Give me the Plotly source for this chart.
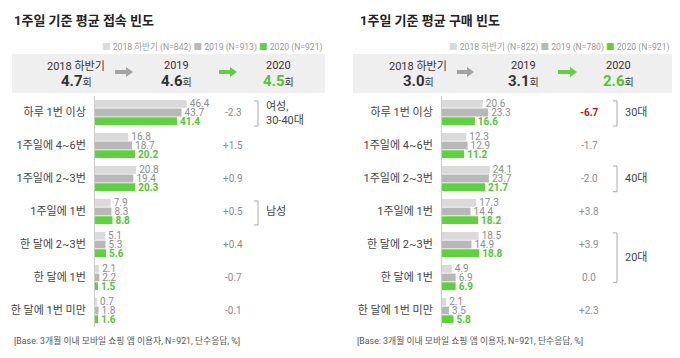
import plotly.graph_objects as go

# page body has an 8px margin, so the figure is drawn 8px in from the window edge
OFF = 8
W, H = 680 - 2 * OFF, 358 - 2 * OFF

categories = ["하루 1번 이상", "1주일에 4~6번", "1주일에 2~3번", "1주일에 1번",
              "한 달에 2~3번", "한 달에 1번", "한 달에 1번 미만"]

# Left panel: access frequency
acc_2018 = [46.4, 16.8, 20.8, 7.9, 5.1, 2.1, 0.7]
acc_2019 = [43.7, 18.7, 19.4, 8.3, 5.3, 2.2, 1.8]
acc_2020 = [41.4, 20.2, 20.3, 8.8, 5.6, 1.5, 1.6]
acc_diff = ["-2.3", "+1.5", "+0.9", "+0.5", "+0.4", "-0.7", "-0.1"]
acc_avg = ["4.7", "4.6", "4.5"]
acc_n = ["842", "913", "921"]

# Right panel: purchase frequency
buy_2018 = [20.6, 12.3, 24.1, 17.3, 18.5, 4.9, 2.1]
buy_2019 = [23.3, 12.9, 23.7, 14.4, 14.9, 6.9, 3.5]
buy_2020 = [16.6, 11.2, 21.7, 18.2, 18.8, 6.9, 5.8]
buy_diff = ["-6.7", "-1.7", "-2.0", "+3.8", "+3.9", "0.0", "+2.3"]
buy_avg = ["3.0", "3.1", "2.6"]
buy_n = ["822", "780", "921"]

period_labels = ["2018 하반기", "2019", "2020"]

C18, C19, C20 = "#dadada", "#b8b8b8", "#5cd33c"
TXT_GRAY = "#8c8c8c"
GREEN_TXT = "#4fc52f"
FONT = "Roboto, 'Noto Sans CJK KR', sans-serif"


def px(x):
    return (x - OFF) / W


def py(y):
    return 1 - (y - OFF) / H


fig = go.Figure()


def add_bars(v18, v19, v20, xa, ya):
    for vals, col, tcol, bold in [(v18, C18, TXT_GRAY, False),
                                  (v19, C19, TXT_GRAY, False),
                                  (v20, C20, GREEN_TXT, True)]:
        txt = [(f"<b>{v:.1f}</b>" if bold else f"{v:.1f}") for v in vals]
        fig.add_trace(go.Bar(
            y=categories, x=vals, orientation="h", marker_color=col,
            marker_line_width=0, text=txt, textposition="outside",
            textfont=dict(color=tcol, size=10, family=FONT),
            constraintext="none", cliponaxis=False,
            xaxis=xa, yaxis=ya, showlegend=False, hoverinfo="skip"))


add_bars(acc_2018, acc_2019, acc_2020, "x", "y")
add_bars(buy_2018, buy_2019, buy_2020, "x2", "y2")

ydom = [py(327), py(96)]
yax = dict(type="category", categoryorder="array", categoryarray=categories,
           range=[6.5, -0.5], showline=True, linecolor="#cccccc", linewidth=1,
           showgrid=False, zeroline=False, ticks="", ticklabelstandoff=6,
           tickfont=dict(size=11, color="#444444", family=FONT), domain=ydom)
xax = dict(range=[0, 100], visible=False, showgrid=False, zeroline=False)

fig.update_layout(
    width=W, height=H, margin=dict(l=0, r=0, t=0, b=0),
    plot_bgcolor="white", paper_bgcolor="white",
    barmode="group", bargap=0.21, bargroupgap=0.1,
    font=dict(family=FONT),
    xaxis=dict(**xax, domain=[px(95), px(293)], anchor="y"),
    yaxis=dict(**yax, anchor="x"),
    xaxis2=dict(**xax, domain=[px(442), px(640)], anchor="y2"),
    yaxis2=dict(**yax, anchor="x2"),
)

ann = []
shapes = []


def arrow(a0, a1, yc, col):
    shapes.append(dict(type="rect", xref="paper", yref="paper",
                       x0=px(a0), x1=px(a1 - 6), y0=py(yc + 2), y1=py(yc - 2),
                       fillcolor=col, line_width=0))
    path = (f"M {px(a1 - 7)} {py(yc - 5)} L {px(a1)} {py(yc)} "
            f"L {px(a1 - 7)} {py(yc + 5)} Z")
    shapes.append(dict(type="path", xref="paper", yref="paper", path=path,
                       fillcolor=col, line_width=0))


def panel(x0, box_l, box_r, title, avg, ns, centers, arrows, diff_x, diffs, yref):
    ann.append(dict(x=px(x0), y=py(20), xref="paper", yref="paper", xanchor="left",
                    yanchor="middle", showarrow=False, align="left",
                    text=f"<b>{title}</b>", font=dict(size=13, color="#222222", family=FONT)))
    leg = (f"<span style='color:{C18}'>■</span> {period_labels[0]} (N={ns[0]}) "
           f"<span style='color:{C19}'>■</span> {period_labels[1]} (N={ns[1]}) "
           f"<span style='color:{C20}'>■</span> {period_labels[2]} (N={ns[2]})")
    ann.append(dict(x=px(box_r), y=py(47), xref="paper", yref="paper", xanchor="right",
                    yanchor="middle", showarrow=False, text=leg, align="right",
                    font=dict(size=8.6, color="#999999", family=FONT)))
    shapes.append(dict(type="rect", xref="paper", yref="paper", x0=px(box_l), x1=px(box_r),
                       y0=py(93), y1=py(54), fillcolor="#efefef", line_width=0, layer="below"))
    for i, (cx, lab, v) in enumerate(zip(centers, period_labels, avg)):
        ann.append(dict(x=px(cx), y=py(66), xref="paper", yref="paper", showarrow=False,
                        xanchor="center", yanchor="middle", text=lab,
                        font=dict(size=11, color="#333333", family=FONT)))
        col = GREEN_TXT if i == 2 else "#333333"
        ann.append(dict(x=px(cx), y=py(81), xref="paper", yref="paper", showarrow=False,
                        xanchor="center", yanchor="middle",
                        text=f"<b>{v}</b><span style='font-size:10px;color:#333333'>회</span>",
                        font=dict(size=15, color=col, family=FONT)))
    for (a0, a1), col in zip(arrows, ["#a3a3a3", "#5cd33c"]):
        arrow(a0, a1, 72, col)
    for cat, d in zip(categories, diffs):
        if d == "-6.7":
            txt, col = f"<b>{d}</b>", "#a31c1c"
        else:
            txt, col = d, "#8c8c8c"
        ann.append(dict(x=px(diff_x), y=cat, xref="paper", yref=yref, showarrow=False,
                        xanchor="center", yanchor="middle", text=txt,
                        font=dict(size=10, color=col, family=FONT)))


panel(12, 12, 325, "1주일 기준 평균 접속 빈도", acc_avg, acc_n,
      [76, 176, 278], [(115, 133), (219, 237)], 233, acc_diff, "y")
panel(358, 353, 672, "1주일 기준 평균 구매 빈도", buy_avg, buy_n,
      [418, 523, 618], [(457, 474), (558, 577)], 589, buy_diff, "y2")


def bracket(xv, y0, y1, yref, label, ytext):
    path = (f"M {px(xv - 4)} {y0} L {px(xv)} {y0} L {px(xv)} {y1} L {px(xv - 4)} {y1}")
    shapes.append(dict(type="path", xref="paper", yref=yref, path=path,
                       line=dict(color="#aaaaaa", width=1)))
    ann.append(dict(x=px(xv + 6), y=ytext, xref="paper", yref=yref, showarrow=False,
                    xanchor="left", yanchor="middle", text=label, align="left",
                    font=dict(size=11, color="#444444", family=FONT)))


# bracket y in category-index units (0 = first category)
bracket(258, -0.35, 0.41, "y", "여성,<br>30-40대", 0.03)
bracket(258, 2.68, 3.41, "y", "남성", 3.0)
bracket(617, -0.35, 0.41, "y2", "30대", 0.0)
bracket(617, 1.62, 2.4, "y2", "40대", 2.0)
bracket(617, 3.65, 5.15, "y2", "20대", 4.4)

for x0 in (12, 355):
    ann.append(dict(x=px(x0), y=py(340), xref="paper", yref="paper", showarrow=False,
                    xanchor="left", yanchor="middle", align="left",
                    text="[Base: 3개월 이내 모바일 쇼핑 앱 이용자, N=921, 단수응답, %]",
                    font=dict(size=8.8, color="#555555", family=FONT)))

fig.update_layout(annotations=ann, shapes=shapes)
fig.write_html("out.html")
